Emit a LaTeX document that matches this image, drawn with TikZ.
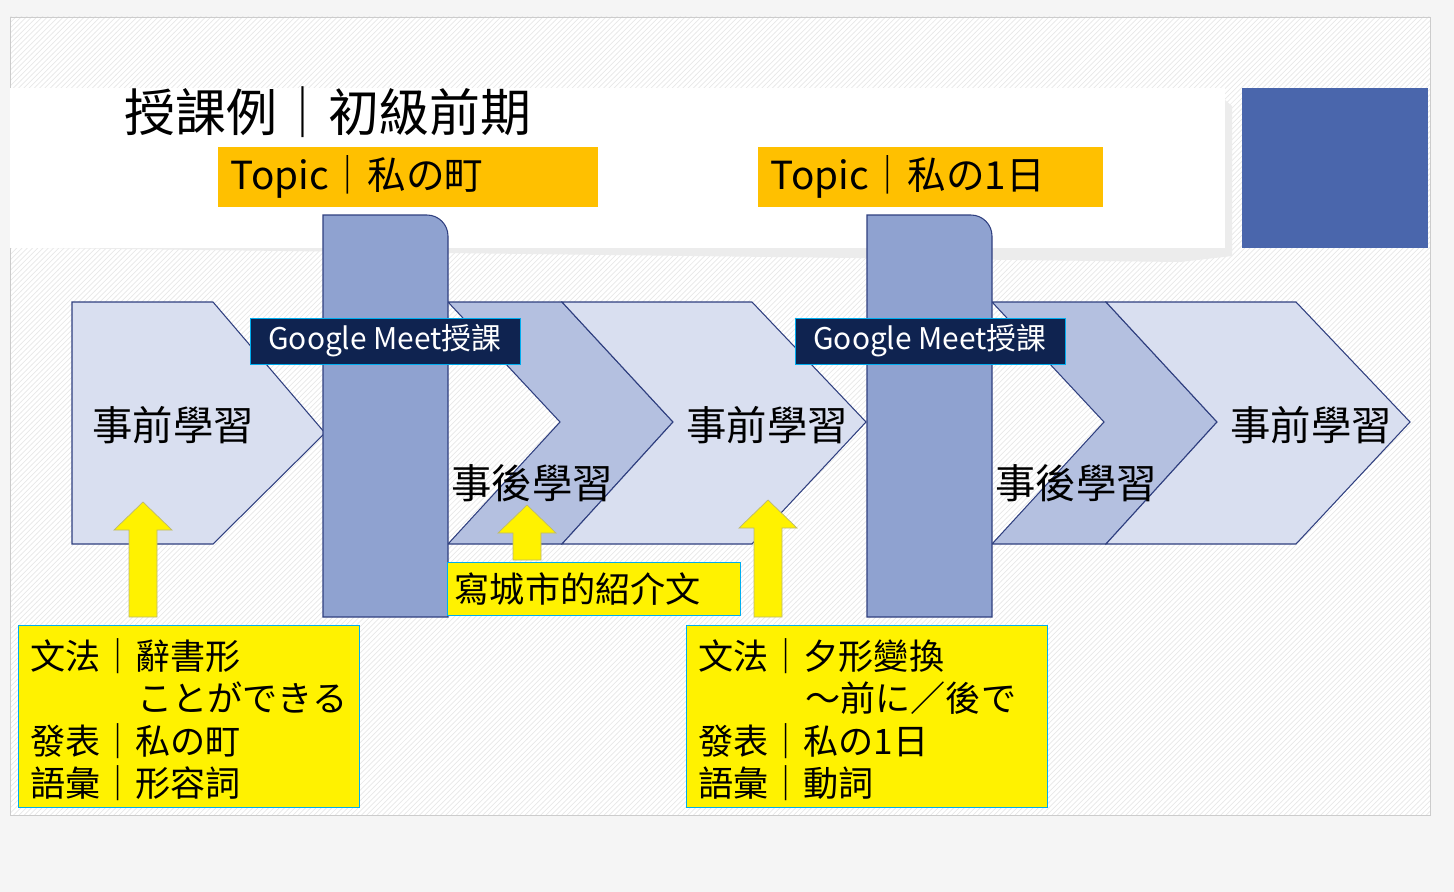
\documentclass[tikz,border=0pt]{standalone}
\usepackage{fontspec}
\setmainfont{Noto Sans CJK TC}
\usetikzlibrary{patterns}
\definecolor{lightchev}{HTML}{D9DFF0}
\definecolor{midchev}{HTML}{B4C0E0}
\definecolor{colblue}{HTML}{8FA2D0}
\definecolor{edgeblue}{HTML}{2F3F7F}
\definecolor{squareblue}{HTML}{4A66AC}
\definecolor{navy}{HTML}{0F2350}
\definecolor{topicorange}{HTML}{FFC000}
\begin{document}
\begin{tikzpicture} [
                x=0.02cm, y=-0.02cm,
                chev/.style={draw=edgeblue, line width=0.6pt},
                topic/.style={fill=topicorange, anchor=west, inner xsep=0.25cm, inner ysep=0pt, align=left, font=\fontsize{22}{22}\selectfont},
                meet/.style={fill=navy, draw=cyan, text=white, minimum width=270*0.02cm, minimum height=46*0.02cm, inner sep=0pt, font=\fontsize{17}{17}\selectfont},
                step label/.style={font=\fontsize{23}{23}\selectfont},
                note/.style={fill=yellow, draw=cyan, anchor=north west, inner sep=0pt},
                note text/.style={anchor=north west, align=left, font=\fontsize{20}{24.2}\selectfont},
                uparrow/.style={fill=yellow, draw=gray!60!yellow, line width=0.4pt},
            ]
            % Background and title band
            \fill[gray!8] (0,0) rectangle (1454,892);
            \useasboundingbox (0,0) rectangle (1454,892);
            \fill[white] (10,17) rectangle (1430,815);
            \fill[pattern=north east lines, pattern color=gray!18] (10,17) rectangle (1430,815);
            \draw[gray!40] (10,17) rectangle (1430,815);
            \fill[gray!15] (40,248) -- (1225,248) -- (1225,100) -- (1232,106) -- (1232,256) -- (1180,262) -- cycle;
            \fill[white] (10,88) rectangle (1225,248);
            \fill[squareblue] (1242,88) rectangle (1428,248);
            \node[anchor=west, font=\fontsize{29}{29}\selectfont] (title) at (118,112) {授課例｜初級前期};
            \node[topic, text width=380*0.02cm-0.5cm, minimum height=60*0.02cm] (topicA) at (218,177) {Topic｜私の町};
            \node[topic, text width=345*0.02cm-0.5cm, minimum height=60*0.02cm] (topicB) at (758,177) {Topic｜私の1日};
            % Chevrons, one block per topic
            \path[chev, fill=lightchev] (72,302) -- (213,302) -- (325,433) -- (213,544) -- (72,544) -- cycle;
            \foreach \dx in {0,544} {
                \path[chev, fill=midchev] (448+\dx,302) -- (562+\dx,302) -- (673+\dx,422) -- (562+\dx,544) -- (448+\dx,544) -- (560+\dx,422) -- cycle;
                \path[chev, fill=lightchev] (562+\dx,302) -- (752+\dx,302) -- (866+\dx,422) -- (752+\dx,544) -- (562+\dx,544) -- (673+\dx,422) -- cycle;
                \path[chev, fill=colblue] (323+\dx,617) -- (323+\dx,215) [rounded corners=12pt] -- (448+\dx,215) [sharp corners] -- (448+\dx,617) -- cycle;
            }
            \node[meet] (meetA) at (385,341) {Google Meet授課};
            \node[meet] (meetB) at (930,341) {Google Meet授課};
            \foreach \pos/\name/\txt in {
                    {(173,425)/preA/事前學習}, {(767,425)/preB/事前學習}, {(1311,425)/preC/事前學習},
                    {(532,483)/postA/事後學習}, {(1076,483)/postB/事後學習}}
                \node[step label] (\name) at \pos {\txt};
            % Yellow arrows and notes
            \foreach \x/\top/\bot in {143/502/617, 527/505/560, 768/500/617}
                \path[uparrow] (\x-14,\bot) -- (\x-14,\top+28) -- (\x-29,\top+28) -- (\x,\top) -- (\x+29,\top+28) -- (\x+14,\top+28) -- (\x+14,\bot) -- cycle;
            \node[note, text width=293*0.02cm-0.3cm, minimum height=53*0.02cm, inner xsep=0.15cm, anchor=west, font=\fontsize{20}{20}\selectfont] (essay) at (447,589) {寫城市的紹介文};
            \node[note, minimum width=341*0.02cm, minimum height=182*0.02cm] (noteA) at (18,625) {};
            \node[note text] (noteAtext) at (24,632) {文法｜辭書形\\\hspace{3.05em}ことができる\\發表｜私の町\\語彙｜形容詞};
            \node[note, minimum width=361*0.02cm, minimum height=182*0.02cm] (noteB) at (686,625) {};
            \node[note text] (noteBtext) at (692,632) {文法｜夕形變換\\\hspace{3.05em}～前に／後で\\發表｜私の1日\\語彙｜動詞};
        \end{tikzpicture}
\end{document}
